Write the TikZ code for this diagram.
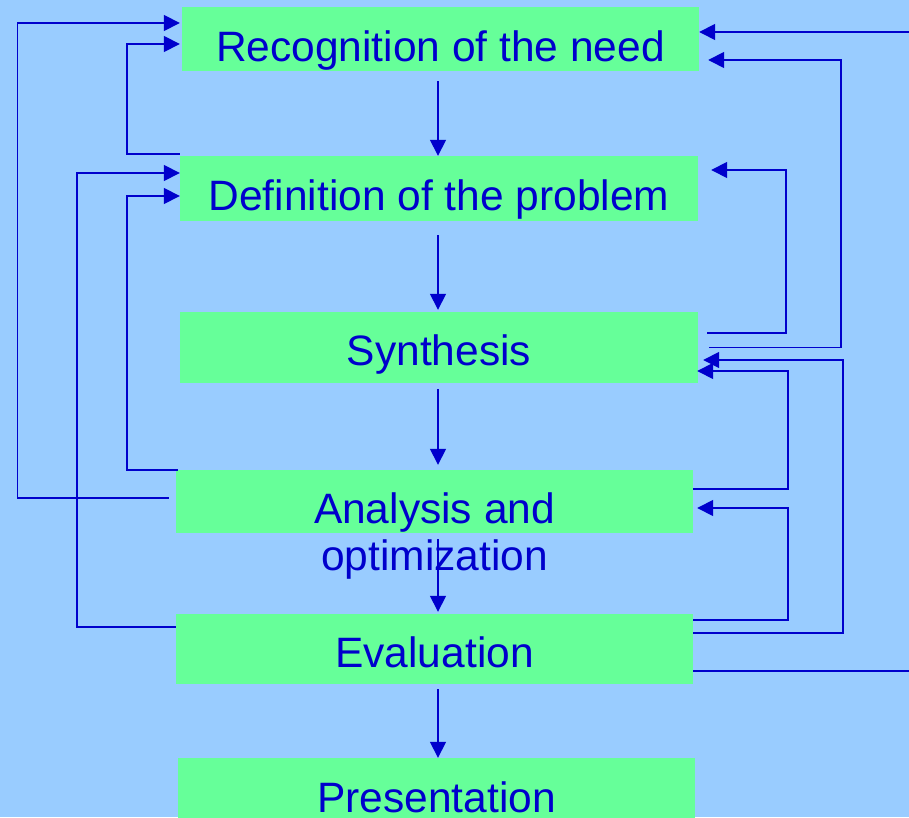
\documentclass[tikz,border=0pt]{standalone}
\usepackage{fontspec}
\setmainfont{Liberation Sans}
\usetikzlibrary{arrows.meta}
\definecolor{bgblue}{HTML}{99CCFF}
\definecolor{boxgreen}{HTML}{66FF99}
\definecolor{lineblue}{HTML}{0000CC}
\begin{document}
\begin{tikzpicture}[x=1pt, y=1pt,
    stagebox/.style={fill=boxgreen, inner sep=0pt, minimum width=517pt},
    lbl/.style={anchor=base, inner sep=0pt, text=lineblue, font=\fontsize{42.5}{47}\selectfont, align=center},
    flow/.style={draw=lineblue, line width=1.6pt, -{Triangle[length=16pt, width=16pt]}},
    fb/.style={flow}]
      \useasboundingbox (0,0) rectangle (909,817);
      \clip (0,0) rectangle (909,817);
      \fill[bgblue] (0,0) rectangle (909,817);
      \node[stagebox, minimum height=64pt] (rec) at (440.5,778) {};
      \node[stagebox, minimum width=518pt, minimum height=65pt] (def) at (439,628.5) {};
      \node[stagebox, minimum width=518pt, minimum height=71pt] (syn) at (439,469.5) {};
      \node[stagebox, minimum height=63pt] (ana) at (434.5,315.5) {};
      \node[stagebox, minimum height=70pt] (eva) at (434.5,168) {};
      \node[stagebox, minimum height=65pt] (pre) at (436.5,26.5) {};
      \node[lbl] (rectxt) at ([yshift=10pt]rec.south) {Recognition of the need};
      \node[lbl] (deftxt) at ([yshift=11pt]def.south) {Definition of the problem};
      \node[lbl] (syntxt) at ([yshift=18pt]syn.south) {Synthesis};
      \node[lbl] (anatxt) at ([yshift=-37pt]ana.south) {Analysis and\\ optimization};
      \node[lbl] (evatxt) at ([yshift=17pt]eva.south) {Evaluation};
      \node[lbl] (pretxt) at ([yshift=11pt]pre.south) {Presentation};
      \draw[flow] ([xshift=-2.5pt,yshift=-10pt]rec.south) -- ([xshift=-1pt]def.north);
      \draw[flow] ([xshift=-1pt,yshift=-14pt]def.south) -- ([xshift=-1pt,yshift=2pt]syn.north);
      \draw[flow] ([xshift=-1pt,yshift=-6pt]syn.south) -- ([xshift=3.5pt,yshift=5pt]ana.north);
      \draw[flow] ([xshift=3.5pt,yshift=-6pt]ana.south) -- ([xshift=3.5pt,yshift=2pt]eva.north);
      \draw[flow] ([xshift=3.5pt,yshift=-5pt]eva.south) -- ([xshift=1.5pt]pre.north);
      \draw[fb] ([xshift=-7pt,yshift=3.5pt]ana.west) -- ++(-151.5,0) |- ([xshift=-2pt,yshift=16pt]rec.west);
      \draw[fb] ([yshift=2pt]def.north west) -- ++(-53,0) |- ([xshift=-2pt,yshift=-5pt]rec.west);
      \draw[fb] ([yshift=22pt]eva.west) -- ++(-99,0) |- ([yshift=15.5pt]def.west);
      \draw[fb] ([xshift=2pt]ana.north west) -- ++(-51,0) |- ([yshift=-7.5pt]def.west);
      \draw[fb] ([yshift=-22pt]eva.east) -- ++(222,0) |- ([yshift=7pt]rec.east);
      \draw[fb] ([xshift=11pt]syn.east) -- ++(132,0) |- ([xshift=9pt,yshift=-21pt]rec.east);
      \draw[fb] ([xshift=9pt,yshift=14.5pt]syn.east) -- ++(79,0) |- ([xshift=13pt,yshift=18.5pt]def.east);
      \draw[fb] ([yshift=16pt]eva.east) -- ++(150,0) |- ([xshift=5pt,yshift=-12.5pt]syn.east);
      \draw[fb] ([yshift=12.5pt]ana.east) -- ++(95,0) |- ([xshift=-1pt,yshift=-23.5pt]syn.east);
      \draw[fb] ([yshift=29pt]eva.east) -- ++(95,0) |- ([xshift=4pt,yshift=-6.5pt]ana.east);
    \end{tikzpicture}
\end{document}
